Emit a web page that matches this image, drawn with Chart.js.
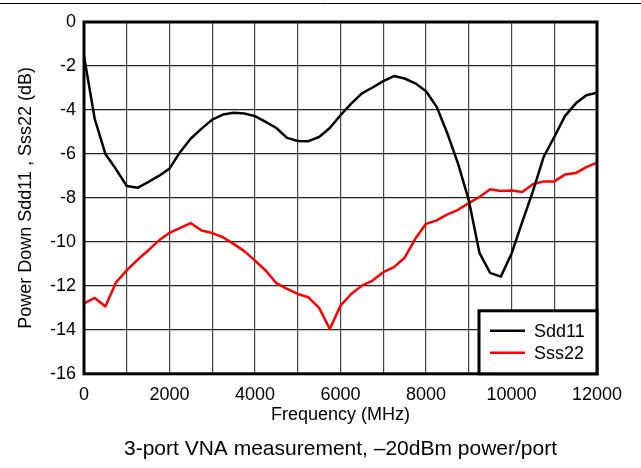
<!DOCTYPE html>
<html>
<head>
<meta charset="utf-8">
<script src="https://cdn.jsdelivr.net/npm/chart.js@4.4.1/dist/chart.umd.min.js"></script>
<style>
  html, body { margin: 0; padding: 0; background: #fff; }
  #wrap { width: 641px; height: 468px; }
</style>
</head>
<body>
<div id="wrap"><canvas id="vna" width="641" height="468"></canvas></div>
<script>
// Frequency points (MHz), one sweep every 250 MHz
const freqMHz = [
  0, 250, 500, 750, 1000, 1250, 1500, 1750, 2000, 2250, 2500, 2750,
  3000, 3250, 3500, 3750, 4000, 4250, 4500, 4750, 5000, 5250, 5500, 5750,
  6000, 6250, 6500, 6750, 7000, 7250, 7500, 7750, 8000, 8250, 8500, 8750,
  9000, 9250, 9500, 9750, 10000, 10250, 10500, 10750, 11000, 11250, 11500, 11750,
  12000
];

// Sdd11 (dB)
const sdd11 = [
  -1.55, -4.4, -6.0, -6.7, -7.46, -7.54, -7.28, -7.0, -6.67, -5.91, -5.3, -4.85,
  -4.44, -4.21, -4.13, -4.16, -4.28, -4.54, -4.82, -5.27, -5.41, -5.42, -5.23, -4.82,
  -4.24, -3.71, -3.25, -2.98, -2.69, -2.46, -2.57, -2.79, -3.15, -3.86, -5.07, -6.44,
  -8.1, -10.5, -11.41, -11.58, -10.54, -9.1, -7.7, -6.14, -5.23, -4.28, -3.71, -3.33,
  -3.22
];

// Sss22 (dB)
const sss22 = [
  -12.8, -12.55, -12.94, -11.84, -11.3, -10.82, -10.39, -9.94, -9.59, -9.36, -9.15, -9.48,
  -9.6, -9.79, -10.09, -10.42, -10.85, -11.3, -11.88, -12.14, -12.37, -12.52, -13.0, -13.96,
  -12.9, -12.37, -11.99, -11.76, -11.38, -11.15, -10.72, -9.86, -9.18, -9.02, -8.75, -8.54,
  -8.24, -7.96, -7.61, -7.69, -7.66, -7.73, -7.38, -7.25, -7.25, -6.94, -6.87, -6.6,
  -6.4
];

const FONT = '"Liberation Sans", Arial, sans-serif';
const caption = '3-port VNA measurement, \u201320dBm power/port';

const toPoints = (ys) => freqMHz.map((f, i) => ({ x: f, y: ys[i] }));

// plot frame, figure rule and the boxed legend in the lower right corner
const framePlugin = {
  id: 'frame',
  afterDraw(chart) {
    const { ctx, chartArea: a } = chart;
    ctx.save();
    ctx.strokeStyle = '#000';
    ctx.lineWidth = 1;
    ctx.beginPath();
    ctx.moveTo(0, 3.5);
    ctx.lineTo(chart.width, 3.5);
    ctx.stroke();

    ctx.lineWidth = 3;
    ctx.strokeRect(a.left, a.top, a.right - a.left, a.bottom - a.top);

    const w = 118, h = 63;
    const x0 = a.right - w, y0 = a.bottom - h;
    ctx.fillStyle = '#fff';
    ctx.fillRect(x0, y0, w, h);
    ctx.strokeRect(x0, y0, w, h);
    ctx.font = '18px ' + FONT;
    ctx.textBaseline = 'middle';
    chart.data.datasets.forEach((ds, i) => {
      const y = y0 + 20 + i * 22;
      ctx.strokeStyle = ds.borderColor;
      ctx.lineWidth = 2.5;
      ctx.beginPath();
      ctx.moveTo(x0 + 11, y);
      ctx.lineTo(x0 + 46, y);
      ctx.stroke();
      ctx.fillStyle = '#000';
      ctx.fillText(ds.label, x0 + 55, y + 1);
    });
    ctx.restore();
  }
};

new Chart(document.getElementById('vna'), {
  type: 'line',
  data: {
    datasets: [
      { label: 'Sdd11', data: toPoints(sdd11), borderColor: '#000000', borderWidth: 2.5, pointRadius: 0, tension: 0, borderJoinStyle: 'round' },
      { label: 'Sss22', data: toPoints(sss22), borderColor: '#ff0000', borderWidth: 2.5, pointRadius: 0, tension: 0, borderJoinStyle: 'round' },
    ],
  },
  options: {
    responsive: false,
    animation: false,
    layout: { padding: { left: 0, right: 44, top: 22, bottom: 0 } },
    plugins: {
      legend: { display: false },
      tooltip: { enabled: false },
      title: {
        display: true,
        position: 'bottom',
        fullSize: false,
        text: caption,
        color: '#000',
        font: { family: FONT, size: 21, weight: 'normal' },
        padding: { top: 0, bottom: 6 },
      },
    },
    scales: {
      x: {
        type: 'linear',
        min: 0,
        max: 12000,
        afterFit(scale) { scale.height = 63; },
        ticks: {
          stepSize: 1000,
          autoSkip: false,
          maxRotation: 0,
          padding: 10,
          color: '#000',
          font: { family: FONT, size: 18 },
          callback: (v) => (v % 2000 === 0 ? String(v) : ''),
        },
        grid: { color: '#444', lineWidth: 1.2, drawTicks: false },
        border: { display: false },
        title: {
          display: true,
          text: 'Frequency (MHz)',
          color: '#000',
          font: { family: FONT, size: 18 },
          padding: { top: 0, bottom: 11 },
        },
      },
      y: {
        min: -16,
        max: 0,
        afterFit(scale) { scale.width = 84; },
        ticks: {
          stepSize: 2,
          padding: 8,
          color: '#000',
          font: { family: FONT, size: 18 },
        },
        grid: { color: '#222', lineWidth: 1.2, drawTicks: false },
        border: { display: false },
        title: {
          display: true,
          text: 'Power Down Sdd11 , Sss22 (dB)',
          color: '#000',
          font: { family: FONT, size: 18 },
          padding: { top: 15, bottom: 0 },
        },
      },
    },
  },
  plugins: [framePlugin],
});
</script>
</body>
</html>
